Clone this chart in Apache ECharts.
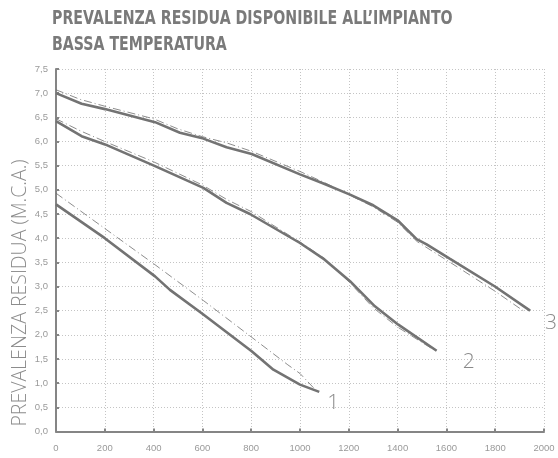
<!DOCTYPE html>
<html>
<head>
<meta charset="utf-8">
<script src="https://cdn.jsdelivr.net/npm/echarts@6/dist/echarts.min.js"></script>
<style>html,body{margin:0;padding:0;background:#fff}#c{width:558px;height:458px}</style>
</head>
<body>
<div id="c"></div>
<script>
const titleLines = ["PREVALENZA RESIDUA DISPONIBILE ALL\u2019IMPIANTO", "BASSA TEMPERATURA"];
const yAxisTitle = "PREVALENZA RESIDUA (M.C.A.)";
const curveNames = ["1", "2", "3"];

const c1x = [0, 200, 406, 467, 604, 802, 891, 1000, 1079];
const c1y = [4.70, 4.00, 3.21, 2.93, 2.42, 1.66, 1.28, 0.97, 0.82];
const c1dx = [0, 200, 406, 604, 802, 950, 1000, 1060];
const c1dy = [4.93, 4.20, 3.45, 2.71, 1.95, 1.38, 1.20, 0.88];

const c2x = [0, 105, 201, 406, 604, 699, 795, 1000, 1100, 1205, 1307, 1403, 1560];
const c2y = [6.42, 6.11, 5.94, 5.49, 5.04, 4.73, 4.50, 3.90, 3.56, 3.11, 2.59, 2.21, 1.67];
const c2dx = [0, 100, 200, 400, 600, 700, 800, 1000, 1100, 1200, 1300, 1400, 1545];
const c2dy = [6.47, 6.22, 6.00, 5.58, 5.10, 4.80, 4.55, 3.92, 3.58, 3.10, 2.56, 2.16, 1.70];

const c3x = [0, 105, 201, 406, 508, 604, 699, 802, 1000, 1096, 1205, 1300, 1400, 1478, 1519, 1615, 1799, 1943];
const c3y = [7.00, 6.78, 6.67, 6.40, 6.18, 6.06, 5.88, 5.74, 5.32, 5.13, 4.90, 4.68, 4.37, 3.98, 3.87, 3.57, 3.00, 2.50];
const c3dx = [0, 100, 200, 400, 500, 600, 700, 800, 1000, 1100, 1200, 1300, 1400, 1480, 1640, 1800, 1920];
const c3dy = [7.07, 6.87, 6.73, 6.47, 6.26, 6.10, 5.97, 5.80, 5.38, 5.15, 4.90, 4.65, 4.33, 3.93, 3.42, 2.90, 2.48];

const xTicks = [0, 2000, 200];
const yTicks = [0, 7.5, 0.5];

const pairs = (xs, ys) => xs.map((x, i) => [x, ys[i]]);

const solidColor = '#737373';
const dashColor = '#707070';
const labelOffsets = [[8, 11], [26, 11], [15, 12]];

function solid(xs, ys, idx) {
  return {
    type: 'line', data: pairs(xs, ys), symbol: 'none', smooth: false,
    lineStyle: { color: solidColor, width: 2.6 }, z: 3,
    endLabel: { show: true, formatter: curveNames[idx], color: '#8a8a8a',
      fontFamily: 'Open Sans', fontSize: 21, fontWeight: 300,
      distance: 0, offset: labelOffsets[idx], align: 'left', verticalAlign: 'middle' }
  };
}
function dashed(xs, ys) {
  return {
    type: 'line', data: pairs(xs, ys), symbol: 'none', smooth: false,
    lineStyle: { color: dashColor, width: 0.8, type: [8, 3, 1, 3] }, z: 2
  };
}

const chart = echarts.init(document.getElementById('c'), null, { renderer: 'canvas' });
chart.setOption({
  animation: false,
  backgroundColor: '#fff',
  graphic: [
    {
      type: 'text', left: null, x: 52, y: 6, scaleX: 0.83, z: 10,
      style: { text: titleLines.join('\n'), fill: '#7a7a7a',
        font: 'bold 19px "DejaVu Sans Condensed", "DejaVu Sans", sans-serif',
        lineHeight: 26, align: 'left', verticalAlign: 'top' }
    },
    {
      type: 'text', x: 20, y: 293, rotation: Math.PI / 2, z: 10,
      style: { text: yAxisTitle, fill: '#8c8c8c',
        font: '300 19.5px "Open Sans", sans-serif',
        align: 'center', verticalAlign: 'middle' }
    }
  ],
  grid: { left: 56, right: 14, top: 69, bottom: 26.5, containLabel: false },
  xAxis: {
    type: 'value', min: xTicks[0], max: xTicks[1], interval: xTicks[2],
    axisLine: { show: true, lineStyle: { color: '#858585', width: 2 } },
    axisTick: { show: true, length: 3, inside: true, lineStyle: { color: '#858585', width: 2 } },
    axisLabel: { color: '#9a9a9a', fontSize: 9.5, fontFamily: 'Liberation Sans', margin: 12,
      formatter: v => String(v) },
    splitLine: { show: true, lineStyle: { color: '#c4c4c4', type: [1, 2], width: 1 } }
  },
  yAxis: {
    type: 'value', min: yTicks[0], max: yTicks[1], interval: yTicks[2],
    axisLine: { show: true, lineStyle: { color: '#858585', width: 2 } },
    axisTick: { show: true, length: 3, inside: true, lineStyle: { color: '#858585', width: 2 } },
    axisLabel: { color: '#9a9a9a', fontSize: 9.5, fontFamily: 'Liberation Sans', margin: 8,
      formatter: v => v.toFixed(1).replace('.', ',') },
    splitLine: { show: true, lineStyle: { color: '#c4c4c4', type: [1, 2], width: 1 } }
  },
  series: [
    dashed(c1dx, c1dy), dashed(c2dx, c2dy), dashed(c3dx, c3dy),
    solid(c1x, c1y, 0), solid(c2x, c2y, 1), solid(c3x, c3y, 2)
  ]
});
</script>
</body>
</html>
